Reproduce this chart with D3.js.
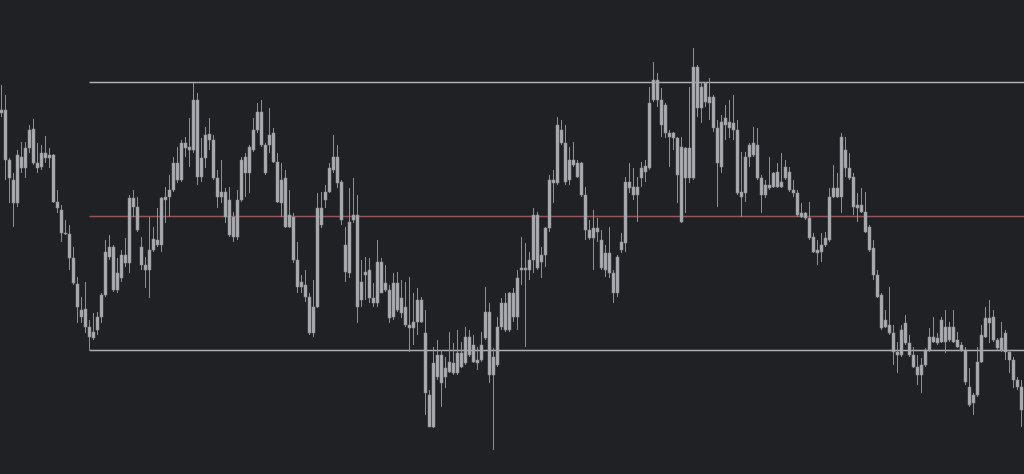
<!DOCTYPE html>
<html>
<head>
<meta charset="utf-8">
<script src="https://cdn.jsdelivr.net/npm/d3@7/dist/d3.min.js"></script>
<style>
  html, body { margin: 0; padding: 0; background: #202124; overflow: hidden; }
  svg { display: block; }
</style>
</head>
<body>
<svg id="chart" width="1024" height="474"></svg>
<script>
// OHLC values (arbitrary price units), one per bar
const opens = [387,390,340,320,297,332,332,352,371,337,333,342,345,345,298,290,267,266,242,216,190,191,173,168,170,183,205,243,253,210,222,245,237,302,293,253,235,230,250,260,255,300,303,310,337,320,357,353,350,400,323,342,366,360,322,303,308,300,283,263,300,343,327,350,370,388,355,355,367,338,297,322,273,283,240,213,215,203,167,193,292,300,308,330,343,318,255,227,280,285,200,225,230,202,197,238,210,210,183,217,202,193,175,172,178,200,167,105,73,123,145,123,128,137,127,147,137,163,155,140,140,162,188,125,135,173,197,170,207,183,230,232,230,240,285,238,245,272,320,317,370,357,320,340,337,337,305,270,262,272,260,230,247,227,207,250,257,318,313,305,322,328,332,400,420,400,395,367,362,362,353,322,352,322,433,392,417,397,403,372,333,375,378,377,370,308,307,343,345,355,322,305,315,313,313,318,322,328,310,307,287,282,282,263,250,248,255,260,303,312,303,350,332,323,295,295,288,273,252,225,205,173,175,167,148,145,157,157,145,133,125,135,150,163,157,158,173,160,173,160,155,150,113,97,105,138,163,182,183,160,150,167,148,140,120,113];
const highs = [415,405,342,327,350,358,358,375,381,357,355,364,352,346,310,295,280,275,253,223,203,218,180,187,188,207,260,265,255,242,250,262,305,310,303,263,243,283,273,292,303,313,325,343,353,360,363,382,417,407,362,373,382,365,330,340,312,313,288,310,343,347,355,382,397,400,357,392,372,347,337,330,310,287,258,225,230,207,220,307,308,315,337,365,355,320,273,312,322,305,240,243,242,217,260,242,235,215,227,228,220,218,223,207,212,203,190,110,153,160,150,143,168,157,170,158,173,170,165,153,168,213,197,152,183,202,207,208,212,230,263,257,248,292,288,253,273,325,330,383,380,375,353,358,340,338,313,280,290,282,270,255,273,230,245,267,323,337,332,323,338,340,413,438,427,412,397,370,368,363,363,353,413,452,435,418,418,422,405,380,385,395,400,405,380,348,348,357,373,372,325,320,343,328,337,347,340,333,320,310,297,288,298,267,260,267,268,312,335,327,367,363,347,327,307,312,308,275,260,230,207,190,213,175,158,175,185,165,153,145,142,152,172,183,167,183,190,178,190,168,158,153,132,107,153,175,193,200,190,162,178,170,150,143,123,120];
const lows = [383,320,297,273,293,327,322,347,335,327,330,337,332,297,287,258,265,230,215,177,177,167,150,160,165,177,203,240,208,207,218,233,227,283,268,230,212,202,248,253,248,277,283,308,317,318,343,333,347,315,318,332,350,320,292,297,277,263,258,260,298,303,307,348,367,353,325,347,337,297,283,272,272,237,207,207,198,165,163,192,272,292,307,327,312,275,218,222,277,177,193,200,197,193,193,207,208,177,180,188,182,173,148,155,165,177,85,73,72,120,93,112,127,125,125,132,135,143,137,130,138,160,117,50,133,170,168,168,178,170,215,153,220,227,230,222,233,268,297,315,355,315,315,333,322,303,260,260,230,258,230,223,222,197,203,247,248,307,300,278,313,318,330,398,393,363,362,333,350,297,277,287,317,320,383,377,393,380,368,293,327,360,362,360,305,283,298,333,343,320,287,302,310,312,312,312,320,308,303,283,282,280,260,247,235,238,253,258,302,302,287,323,320,285,278,287,267,248,220,202,170,172,165,135,127,143,155,143,132,115,107,133,148,157,155,157,147,158,157,152,148,115,93,85,103,137,162,157,158,150,148,140,127,112,110,73];
const closes = [390,340,322,297,345,343,352,370,337,332,347,347,342,298,292,267,266,242,217,193,183,173,163,162,183,205,248,253,210,227,245,237,302,293,270,235,230,250,261,255,302,303,310,337,320,357,352,350,400,323,342,365,360,322,303,308,283,265,263,300,340,327,353,370,388,355,327,365,338,298,320,273,285,240,213,218,203,167,193,292,275,308,332,343,317,280,228,278,285,193,218,228,202,197,238,207,217,182,217,190,187,175,172,178,200,178,107,73,137,145,117,132,138,127,147,133,163,145,138,137,155,188,125,143,173,197,170,207,183,222,232,230,240,285,232,245,272,320,317,375,357,318,340,335,323,305,270,262,272,268,232,247,227,207,243,258,318,312,305,313,332,334,397,420,400,375,367,363,367,325,278,352,322,433,392,413,398,403,372,337,378,382,372,370,307,303,343,355,357,322,305,315,312,327,328,313,333,310,307,285,283,287,262,248,247,255,262,303,312,303,363,332,322,293,292,288,268,250,225,203,172,180,167,148,145,170,177,145,133,125,135,150,163,158,162,180,158,173,158,153,150,118,95,105,138,165,182,177,160,152,162,148,140,120,113,90];

// Range drawn from the bar with the range low to the bar with the range high
const rangeLowIndex = 22;
const rangeHighIndex = 48;

const W = 1024, H = 474;
const bg = "#202124";
const svg = d3.select("#chart");
svg.append("rect").attr("width", W).attr("height", H).attr("fill", bg);

const data = opens.map((o, i) => ({ i, o, h: highs[i], l: lows[i], c: closes[i] }));

const x = d3.scaleBand()
  .domain(d3.range(data.length))
  .range([-1, 1023])
  .paddingInner(0.25)
  .paddingOuter(0.125);

const y = d3.scaleLinear().domain([26, 500]).range([H, 0]);

const cx = i => Math.round(x(i) + x.bandwidth() / 2);

// Range lines
const topP = highs[rangeHighIndex];
const botP = lows[rangeLowIndex];
const midP = (topP + botP) / 2;
const x0 = cx(rangeLowIndex) + 0.5;

const lineG = svg.append("g");
[[topP, "#aeafb2"], [midP, "#935757"], [botP, "#aeafb2"]].forEach(([p, col]) => {
  const yy = Math.floor(y(p)) + 0.5;
  lineG.append("line")
    .attr("x1", x0).attr("x2", W)
    .attr("y1", yy).attr("y2", yy)
    .attr("stroke", col).attr("stroke-width", 1.3);
});

// Candles
const g = svg.append("g");
const candles = g.selectAll("g.c").data(data).join("g").attr("class", "c");

candles.append("line")
  .attr("x1", d => cx(d.i) + 0.5)
  .attr("x2", d => cx(d.i) + 0.5)
  .attr("y1", d => y(d.h))
  .attr("y2", d => y(d.l))
  .attr("stroke", "#8d8f93")
  .attr("stroke-width", 1);

candles.append("rect")
  .attr("x", d => cx(d.i) - 1)
  .attr("width", x.bandwidth())
  .attr("y", d => y(Math.max(d.o, d.c)))
  .attr("height", d => Math.max(1, Math.abs(y(d.o) - y(d.c))))
  .attr("fill", "#aaacb0")
  .attr("stroke", "#8d8f93")
  .attr("stroke-width", 0.5);
</script>
</body>
</html>
